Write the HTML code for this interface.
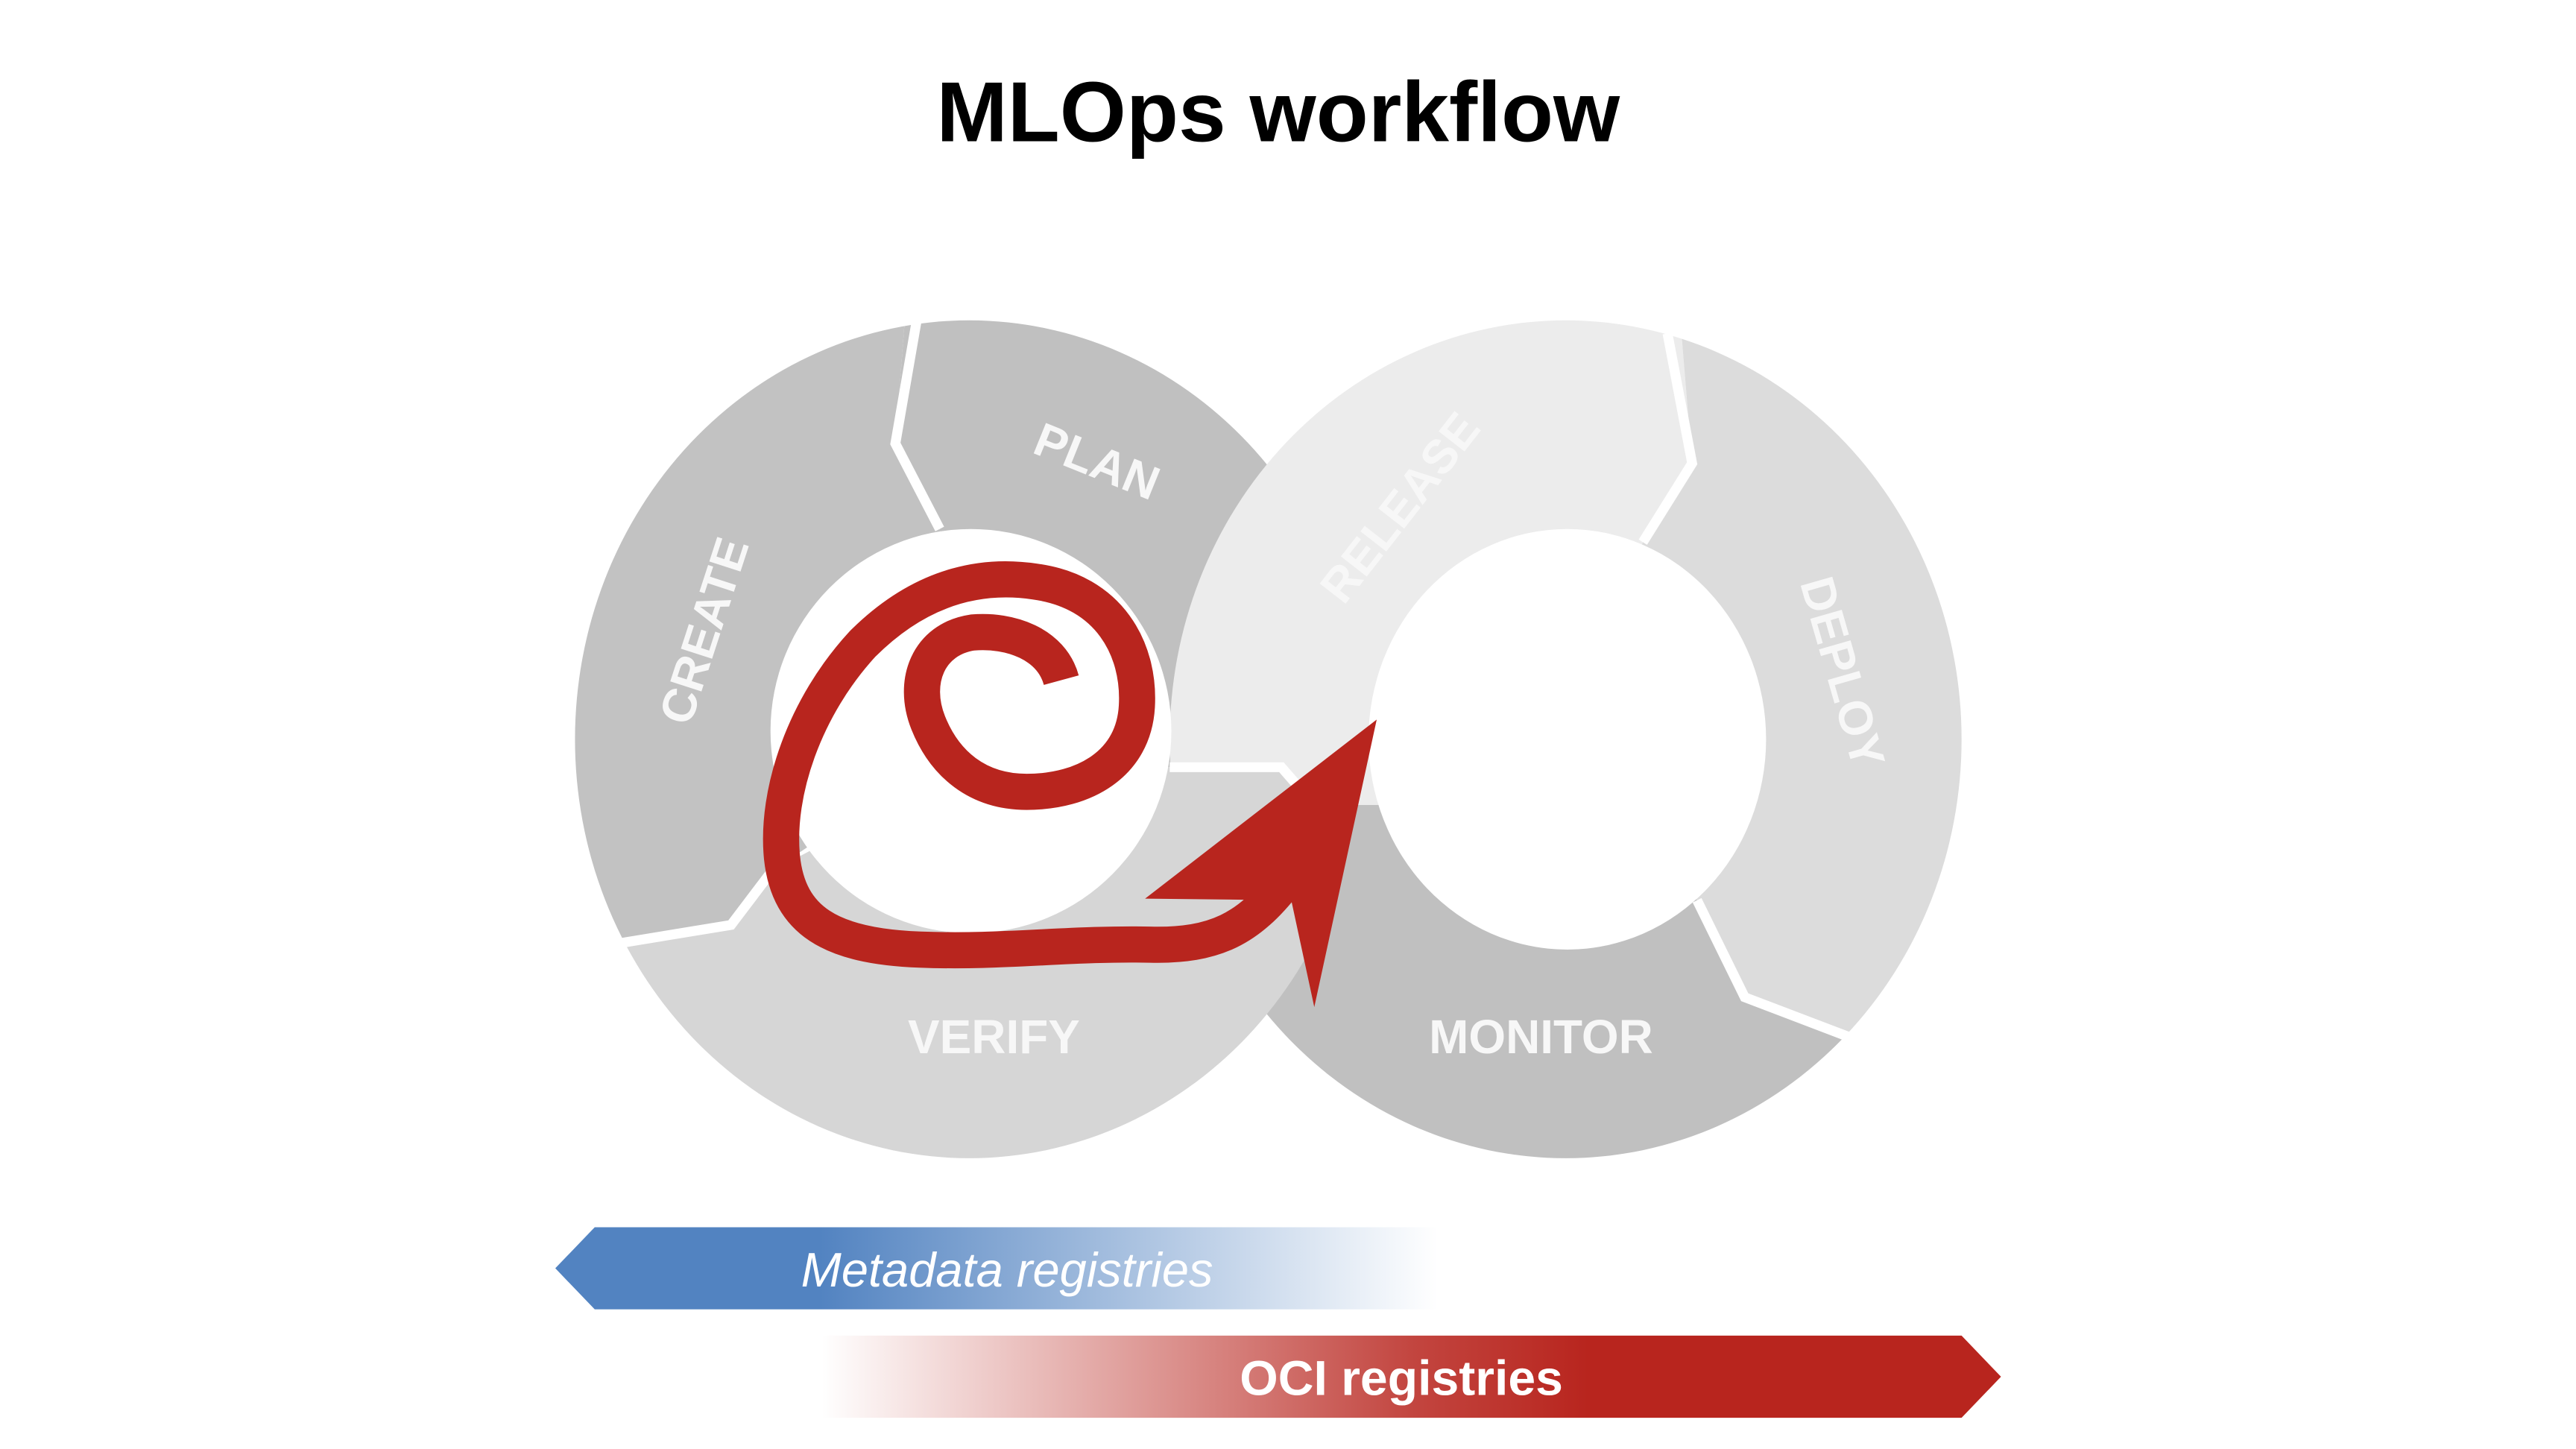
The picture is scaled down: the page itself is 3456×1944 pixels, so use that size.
<!DOCTYPE html>
<html><head><meta charset="utf-8"><style>
html,body{margin:0;padding:0;background:#fff;}
svg{display:block;}
</style></head><body>
<svg width="3456" height="1944" viewBox="0 0 1568 882" xmlns="http://www.w3.org/2000/svg">
<defs>
<clipPath id="cl"><ellipse cx="590" cy="450" rx="240" ry="255"/></clipPath>
<clipPath id="cr"><ellipse cx="953" cy="450" rx="241" ry="255"/></clipPath>
<linearGradient id="gb" x1="338" x2="875" y1="0" y2="0" gradientUnits="userSpaceOnUse">
<stop offset="0" stop-color="#5283c1"/><stop offset="0.3" stop-color="#5283c1"/><stop offset="1" stop-color="#5283c1" stop-opacity="0"/></linearGradient>
<linearGradient id="gr" x1="500" x2="1218" y1="0" y2="0" gradientUnits="userSpaceOnUse">
<stop offset="0" stop-color="#b8251e" stop-opacity="0"/><stop offset="0.5" stop-color="#b8251e" stop-opacity="0.85"/><stop offset="0.65" stop-color="#b8251e"/><stop offset="1" stop-color="#b8251e"/></linearGradient>
</defs>
<text x="778" y="86" text-anchor="middle" font-family="Liberation Sans, sans-serif" font-weight="bold" font-size="52" fill="#000">MLOps workflow</text>

<g clip-path="url(#cl)">
<polygon fill="#c0c0c0" points="590,450 572,322 545,270 558,100 900,100 900,467 590,467"/>
<polygon fill="#c2c2c2" points="590,450 572,322 545,270 558,100 300,100 300,575 380,572 445,562 470,530"/>
<polygon fill="#d6d6d6" points="470,530 445,562 380,572 300,575 300,800 900,800 900,490 800,490 780,467 590,467"/>
</g>
<g clip-path="url(#cr)">
<polygon fill="#ececec" points="953,450 1000,330 1030,282 1015,100 650,100 650,490 953,490"/>
<polygon fill="#dcdcdc" points="953,450 1000,330 1030,282 1015,100 1300,100 1300,640 1125,630 1062,607 1033,548"/>
<polygon fill="#c0c0c0" points="953,450 1033,548 1062,607 1125,630 1300,640 1300,800 650,800 650,490 953,490"/>
</g>
<g clip-path="url(#cl)">
<polygon fill="#d6d6d6" points="590,467 780,467 800,490 815,530 790,660 560,660"/>
</g>
<ellipse cx="591" cy="445" rx="122" ry="123" fill="#fff"/>
<ellipse cx="954" cy="450" rx="121" ry="128" fill="#fff"/>
<g fill="none" stroke="#fff" stroke-width="6">
<polyline points="558,195 545,270 572,322"/>
<polyline points="378,574 445,563 470,530"/>
<polyline points="712,467 780,467 800,490"/>
<polyline points="1015,203 1030,282 1000,330"/>
<polyline points="1033,548 1062,607 1125,631"/>
</g>
<g font-family="Liberation Sans, sans-serif" font-weight="bold" font-size="29" fill="#f7f7f7" text-anchor="middle">
<text transform="translate(438,387) rotate(-72)">CREATE</text>
<text transform="translate(664,290) rotate(22)">PLAN</text>
<text transform="translate(860,315) rotate(-52)">RELEASE</text>
<text transform="translate(1112,412) rotate(74)">DEPLOY</text>
<text x="605" y="641">VERIFY</text>
<text x="938" y="641">MONITOR</text>
</g>
<path fill="none" stroke="#b8251e" stroke-width="22" stroke-linecap="butt" stroke-linejoin="round"
d="M646,414 C640,392 615,383 592,385 C565,389 555,415 565,440 C575,465 595,482 625,482 C660,482 690,465 692,430 C694,395 675,360 630,354 C590,348 555,362 525,392 C490,430 472,482 476,522 C480,560 505,576 560,578 C610,580 650,574 700,575 C740,576 760,565 782,537"/>
<polygon fill="#b8251e" points="838,438 800,613 786,548 697,547"/>

<polygon fill="url(#gb)" points="362,747 875,747 875,797 362,797 338,772"/>
<text x="613" y="783" text-anchor="middle" font-family="Liberation Sans, sans-serif" font-style="italic" font-size="29.5" fill="#fff">Metadata registries</text>
<polygon fill="url(#gr)" points="500,813 1194,813 1218,838 1194,863 500,863"/>
<text x="853" y="849" text-anchor="middle" font-family="Liberation Sans, sans-serif" font-weight="bold" font-size="30" fill="#fff">OCI registries</text>
</svg>
</body></html>
